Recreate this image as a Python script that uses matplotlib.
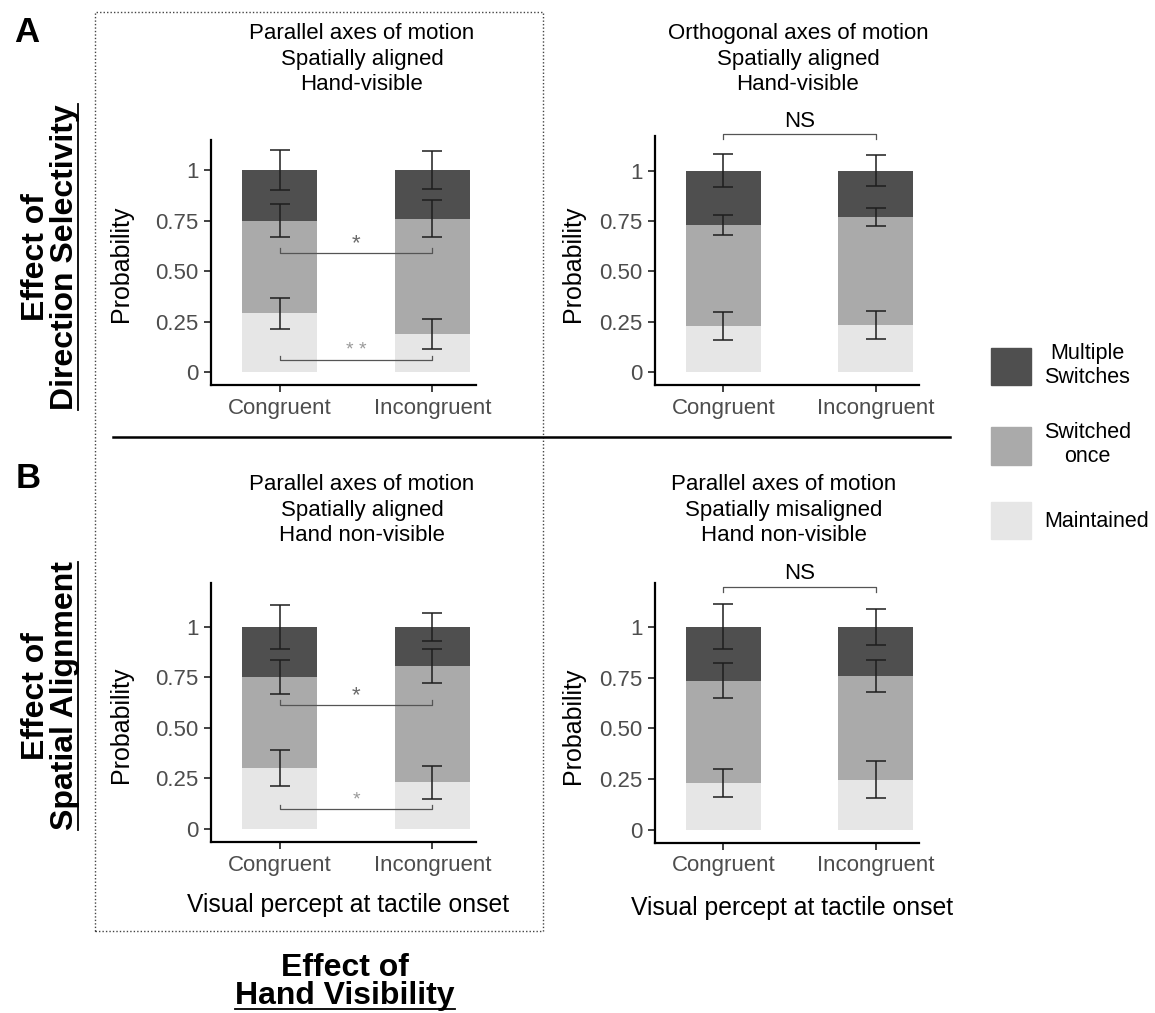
import numpy as np
import matplotlib
matplotlib.use("Agg")
import matplotlib.pyplot as plt
from matplotlib.lines import Line2D
from matplotlib.patches import Patch, Rectangle
from matplotlib.transforms import ScaledTranslation
from matplotlib.font_manager import FontProperties

plt.rcParams['font.family'] = ['Liberation Sans', 'DejaVu Sans']

# ---- data ----
conditions = ["Congruent", "Incongruent"]
panel_titles = [
    "Parallel axes of motion\nSpatially aligned\nHand-visible",
    "Orthogonal axes of motion\nSpatially aligned\nHand-visible",
    "Parallel axes of motion\nSpatially aligned\nHand non-visible",
    "Parallel axes of motion\nSpatially misaligned\nHand non-visible",
]
# segment probabilities per panel: [congruent, incongruent]
maintained = [[0.29, 0.19], [0.23, 0.235], [0.30, 0.23], [0.23, 0.247]]
switched_once = [[0.46, 0.57], [0.50, 0.535], [0.45, 0.575], [0.505, 0.51]]
multiple_switches = [[0.25, 0.24], [0.27, 0.23], [0.25, 0.195], [0.265, 0.243]]
# error bar half widths
err_maintained = [[0.075, 0.074], [0.068, 0.071], [0.088, 0.082], [0.068, 0.093]]
err_switched = [[0.082, 0.090], [0.050, 0.046], [0.083, 0.086], [0.086, 0.080]]
err_multiple = [[0.100, 0.095], [0.080, 0.077], [0.109, 0.069], [0.111, 0.090]]
# significance brackets per panel: (y, label)
brackets = [
    [(0.59, "*"), (0.06, "* *")],
    [(1.18, "NS")],
    [(0.613, "*"), (0.097, "*")],
    [(1.197, "NS")],
]
y_ticks = [0, 0.25, 0.5, 0.75, 1]
y_ticklabels = ["0", "0.25", "0.50", "0.75", "1"]
legend_labels = ["Multiple\nSwitches", "Switched\nonce", "Maintained"]

c_multi = "#4f4f4f"
c_switch = "#aaaaaa"
c_maint = "#e6e6e6"

W, H = 1155, 1013
fig = plt.figure(figsize=(W / 100, H / 100), dpi=100)


def fx(x):
    return x / W


def fy(y):
    return 1 - y / H


# layout (pixel boxes l, t, r, b) and y-ranges
axes_px = [(211, 140, 476, 385), (655, 136, 919, 385),
           (211, 583, 476, 842), (655, 583, 919, 843)]
ylims = [(-0.064, 1.149), (-0.063, 1.171), (-0.065, 1.216), (-0.066, 1.217)]
title_pos = [(362, 59), (798, 59), (362, 510), (784, 510)]
ylab_pos = [(121, 264), (573, 264), (121, 725), (573, 726)]

shift = ScaledTranslation(-0.12, 0, fig.dpi_scale_trans)
x = np.arange(len(conditions))
for i in range(4):
    l, t, r, b = axes_px[i]
    ax = fig.add_axes([fx(l), fy(b), (r - l) / W, (b - t) / H])
    m = np.array(maintained[i])
    s = np.array(switched_once[i])
    mu = np.array(multiple_switches[i])
    ax.bar(x, m, width=0.49, color=c_maint)
    ax.bar(x, s, bottom=m, width=0.49, color=c_switch)
    ax.bar(x, mu, bottom=m + s, width=0.49, color=c_multi)
    ekw = dict(fmt='none', ecolor='#1e1e1e', elinewidth=1.1, capsize=7, capthick=1.1)
    ax.errorbar(x, m, yerr=err_maintained[i], **ekw)
    ax.errorbar(x, m + s, yerr=err_switched[i], **ekw)
    ax.errorbar(x, m + s + mu, yerr=err_multiple[i], **ekw)

    for yb, lab in brackets[i]:
        if lab == "NS":
            d = -0.022
            ax.plot([0, 0, 1, 1], [yb + d, yb, yb, yb + d], color='#555555', lw=0.9, clip_on=False)
            ax.text(0.5, yb + 0.065, lab, ha='center', va='center', fontsize=16, color='black')
        else:
            d = 0.022
            ax.plot([0, 0, 1, 1], [yb + d, yb, yb, yb + d], color='#555555', lw=0.9, clip_on=False)
            col = '#6a6a6a' if yb > 0.3 else '#9a9a9a'
            fs = 16 if yb > 0.3 else 14
            ax.text(0.5, yb + 0.045, lab, ha='center', va='center', fontsize=fs, color=col)

    ax.set_xlim(-0.45, 1.285)
    ax.set_ylim(*ylims[i])
    ax.set_xticks(x)
    ax.set_xticklabels(conditions)
    for lab in ax.get_xticklabels():
        lab.set_transform(lab.get_transform() + shift)
    ax.set_yticks(y_ticks)
    ax.set_yticklabels(y_ticklabels)
    for sp in ['top', 'right']:
        ax.spines[sp].set_visible(False)
    for sp in ['left', 'bottom']:
        ax.spines[sp].set_linewidth(1.6)
        ax.spines[sp].set_color('black')
    ax.tick_params(length=5, width=1.3, color='#333333', labelsize=16,
                   labelcolor='#4d4d4d', pad=4)

    tx, ty = title_pos[i]
    fig.text(fx(tx), fy(ty), panel_titles[i], ha='center', va='center',
             fontsize=16, linespacing=1.3)
    lx, ly = ylab_pos[i]
    fig.text(fx(lx), fy(ly), "Probability", rotation=90, ha='center', va='center', fontsize=18)

fig.text(fx(348), fy(905), "Visual percept at tactile onset", ha='center', va='center', fontsize=17.8)
fig.text(fx(792), fy(908), "Visual percept at tactile onset", ha='center', va='center', fontsize=17.8)

# legend
handles = [Patch(color=c_multi), Patch(color=c_switch), Patch(color=c_maint)]
leg = fig.legend(handles, legend_labels, loc='center', bbox_to_anchor=(fx(1070), fy(441)),
                 frameon=False, fontsize=15.5, handlelength=1.85, handleheight=2.3,
                 labelspacing=1.6, handletextpad=0.6)
for txt in leg.get_texts():
    txt.set_multialignment('center')

# panel letters and effect labels
fig.text(fx(27), fy(32), "A", fontsize=25, fontweight='bold', ha='center', va='center')
fig.text(fx(28), fy(478), "B", fontsize=25, fontweight='bold', ha='center', va='center')

big_fs = 23
bold = FontProperties(family=['Liberation Sans', 'DejaVu Sans'], weight='bold', size=big_fs)
big = dict(fontproperties=bold, rotation=90, rotation_mode='anchor', ha='center',
           va='baseline', multialignment='center', linespacing=0.95)
# anchor = baseline of the last (underlined) line
fig.text(fx(74), fy(257), "Effect of\nDirection Selectivity", **big)
fig.text(fx(74), fy(696), "Effect of\nSpatial Alignment", **big)
fig.text(fx(345), fy(1004), "Effect of\nHand Visibility", fontproperties=bold, ha='center',
         va='baseline', multialignment='center', linespacing=0.93)

# separator line and dotted box
fig.add_artist(Line2D([fx(113), fx(950)], [fy(437), fy(437)], color='black', lw=1.8,
                      transform=fig.transFigure))
fig.add_artist(Rectangle((fx(95), fy(931)), (543 - 95) / W, (931 - 12) / H, fill=False,
                         ec='#444444', lw=1.0, ls=(0, (1, 1.5)), transform=fig.transFigure))

# underlines under the second line of each effect label
fig.canvas.draw()
rend = fig.canvas.get_renderer()
for s, yc in [("Direction Selectivity", 257), ("Spatial Alignment", 696)]:
    w, _, _ = rend.get_text_width_height_descent(s, bold, ismath=False)
    fig.add_artist(Line2D([fx(78), fx(78)], [fy(yc + w / 2), fy(yc - w / 2)], color='black',
                          lw=1.3, transform=fig.transFigure))
w, _, _ = rend.get_text_width_height_descent("Hand Visibility", bold, ismath=False)
fig.add_artist(Line2D([fx(345 - w / 2), fx(345 + w / 2)], [fy(1009), fy(1009)], color='black',
                      lw=1.3, transform=fig.transFigure))

fig.savefig("out.png", dpi=100)
